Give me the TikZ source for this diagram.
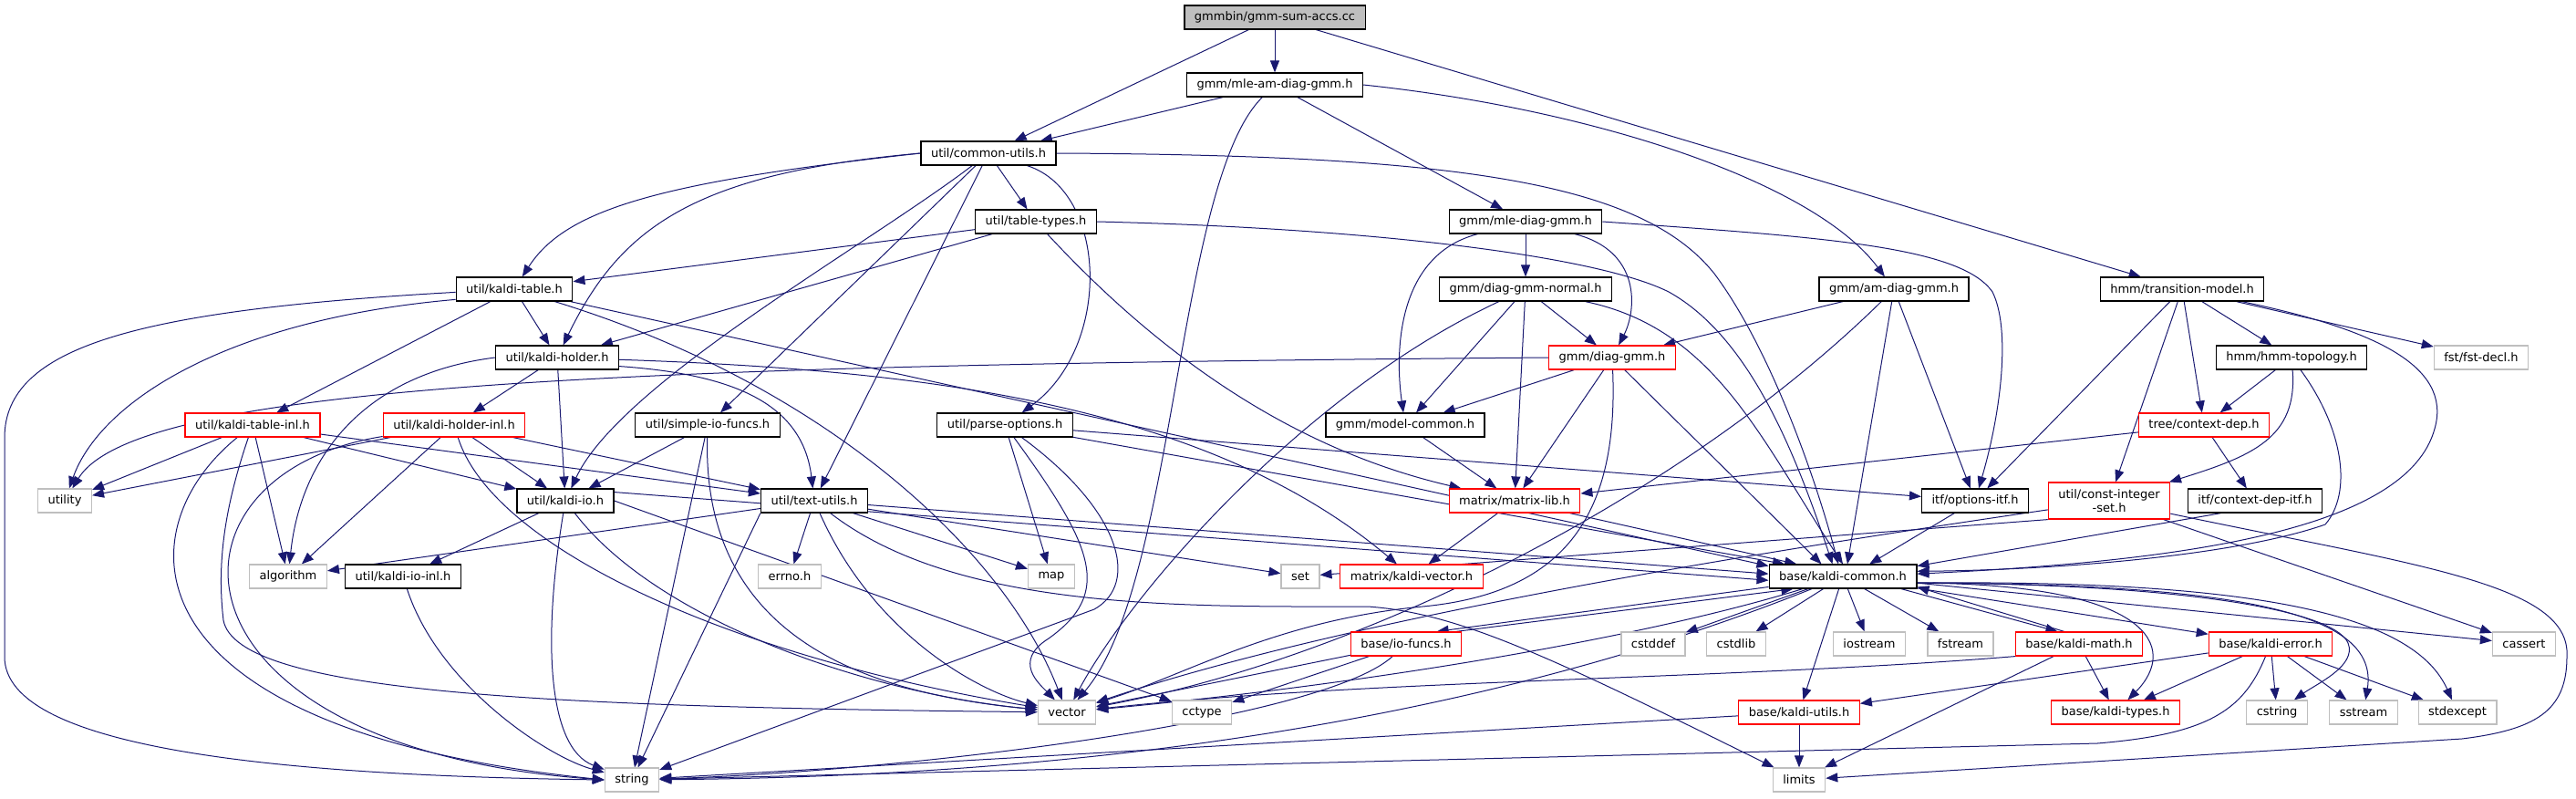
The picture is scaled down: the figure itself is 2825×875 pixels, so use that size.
\documentclass[tikz,border=0pt]{standalone}
\usepackage{fontspec}
\setmainfont{DejaVu Sans}
\usetikzlibrary{arrows.meta,backgrounds}

\definecolor{edgeblue}{RGB}{25,25,112}
\definecolor{sysgray}{RGB}{191,191,191}

\tikzset{
  file/.style={draw=black, fill=white, line width=0.6pt, minimum height=13pt,
    inner xsep=5.5pt, inner ysep=1pt, font=\fontsize{6.5}{7.5}\selectfont},
  redfile/.style={file, draw=red},
  sysfile/.style={file, draw=sysgray},
  rootfile/.style={file, fill=sysgray},
  dep/.style={draw=edgeblue, line width=0.5pt, -{Triangle[length=6.5pt,width=5pt]}}
}

\begin{document}
\begin{tikzpicture}[x=0.5pt, y=-0.5pt]
    \useasboundingbox (0,0) rectangle (2825,875);

    \node[rootfile] (root) at (1398,19) {gmmbin/gmm-sum-accs.cc};
    \node[file] (mleam) at (1398,93) {gmm/mle-am-diag-gmm.h};
    \node[file] (common) at (1084,168) {util/common-utils.h};
    \node[file] (tabletypes) at (1136,243) {util/table-types.h};
    \node[file] (mlediag) at (1673,243) {gmm/mle-diag-gmm.h};
    \node[file] (ktable) at (564,317) {util/kaldi-table.h};
    \node[file] (normal) at (1673,317) {gmm/diag-gmm-normal.h};
    \node[file] (amdiag) at (2077,317) {gmm/am-diag-gmm.h};
    \node[file] (trans) at (2393,317) {hmm/transition-model.h};
    \node[file] (kholder) at (611,392) {util/kaldi-holder.h};
    \node[redfile] (diaggmm) at (1768,392) {gmm/diag-gmm.h};
    \node[file] (hmmtopo) at (2513,392) {hmm/hmm-topology.h};
    \node[sysfile] (fstdecl) at (2721,392) {fst/fst-decl.h};
    \node[redfile] (ktableinl) at (277,466) {util/kaldi-table-inl.h};
    \node[redfile] (kholderinl) at (498,466) {util/kaldi-holder-inl.h};
    \node[file] (simpleio) at (776,466) {util/simple-io-funcs.h};
    \node[file] (parseopt) at (1102,466) {util/parse-options.h};
    \node[file] (modelcommon) at (1541,466) {gmm/model-common.h};
    \node[redfile] (contextdep) at (2417,466) {tree/context-dep.h};
    \node[sysfile] (utility) at (71,549) {utility};
    \node[file] (kio) at (620,549) {util/kaldi-io.h};
    \node[file] (textutils) at (893,549) {util/text-utils.h};
    \node[redfile] (matrixlib) at (1661,549) {matrix/matrix-lib.h};
    \node[file] (optionsitf) at (2166,549) {itf/options-itf.h};
    \node[redfile, align=center, minimum height=20pt] (constint) at (2313,549) {util/const-integer\\-set.h};
    \node[file] (contextdepitf) at (2473,549) {itf/context-dep-itf.h};
    \node[sysfile] (algorithm) at (316,632) {algorithm};
    \node[file] (kioinl) at (442,632) {util/kaldi-io-inl.h};
    \node[sysfile] (errno) at (866,632) {errno.h};
    \node[sysfile] (map) at (1153,632) {map};
    \node[sysfile] (set) at (1426,632) {set};
    \node[redfile] (kvector) at (1548,632) {matrix/kaldi-vector.h};
    \node[file] (kcommon) at (2021,632) {base/kaldi-common.h};
    \node[redfile] (iofuncs) at (1542,706) {base/io-funcs.h};
    \node[sysfile] (cstddef) at (1813,706) {cstddef};
    \node[sysfile] (cstdlib) at (1904,706) {cstdlib};
    \node[sysfile] (iostream) at (2050,706) {iostream};
    \node[sysfile] (fstream) at (2150,706) {fstream};
    \node[redfile] (kmath) at (2280,706) {base/kaldi-math.h};
    \node[redfile] (kerror) at (2490,706) {base/kaldi-error.h};
    \node[sysfile] (cassert) at (2768,706) {cassert};
    \node[sysfile] (vector) at (1170,781) {vector};
    \node[sysfile] (cctype) at (1318,781) {cctype};
    \node[redfile] (kutils) at (1973,781) {base/kaldi-utils.h};
    \node[redfile] (ktypes) at (2320,781) {base/kaldi-types.h};
    \node[sysfile] (cstring) at (2497,781) {cstring};
    \node[sysfile] (sstream) at (2592,781) {sstream};
    \node[sysfile] (stdexcept) at (2695,781) {stdexcept};
    \node[sysfile] (string) at (693,855) {string};
    \node[sysfile] (limits) at (1973,855) {limits};

    \begin{pgfonlayer}{background}
    % top levels
    \draw[dep] (root) -- (common);
    \draw[dep] (root) -- (mleam);
    \draw[dep] (root) -- (trans);
    \draw[dep] (mleam) -- (common);
    \draw[dep] (mleam) .. controls (1290,200) and (1290,640) .. (vector);
    \draw[dep] (mleam) -- (mlediag);
    \draw[dep] (mleam.east) .. controls (1750,120) and (1990,200) .. (amdiag);
    \draw[dep] (common.west) .. controls (720,200) and (620,230) .. (ktable);
    \draw[dep] (common.west) .. controls (760,190) and (680,250) .. (kholder);
    \draw[dep] (common) .. controls (950,270) and (680,420) .. (kio);
    \draw[dep] (common) -- (simpleio);
    \draw[dep] (common) -- (textutils);
    \draw[dep] (common) -- (tabletypes);
    \draw[dep] (common) .. controls (1215,210) and (1220,380) .. (parseopt);
    \draw[dep] (common.east) .. controls (1600,170) and (1800,200) .. (1880,300) .. controls (1940,380) and (1990,520) .. (kcommon.110);
    \draw[dep] (tabletypes) -- (ktable);
    \draw[dep] (tabletypes) -- (kholder);
    \draw[dep] (tabletypes) .. controls (1300,420) and (1450,500) .. (matrixlib);
    \draw[dep] (tabletypes.east) .. controls (1500,250) and (1750,280) .. (1830,320) .. controls (1920,370) and (1970,500) .. (kcommon.130);
    \draw[dep] (mlediag) -- (normal);
    \draw[dep] (mlediag) .. controls (1800,275) and (1795,340) .. (diaggmm);
    \draw[dep] (mlediag) .. controls (1530,280) and (1530,390) .. (modelcommon);
    \draw[dep] (mlediag.east) .. controls (2000,260) and (2150,270) .. (2185,320) .. controls (2205,360) and (2195,450) .. (optionsitf);

    % util
    \draw[dep] (ktable) -- (kholder);
    \draw[dep] (ktable) -- (ktableinl);
    \draw[dep] (ktable.190) .. controls (250,350) and (110,440) .. (utility);
    \draw[dep] (ktable.183) .. controls (150,340) and (5,380) .. (5,480) -- (5,720) .. controls (5,820) and (300,850) .. (string.west);
    \draw[dep] (ktable) .. controls (900,420) and (1100,600) .. (vector);
    \draw[dep] (ktable) -- (kcommon.172);
    \draw[dep] (normal) .. controls (1430,430) and (1240,650) .. (vector);
    \draw[dep] (normal) -- (modelcommon);
    \draw[dep] (normal) -- (matrixlib);
    \draw[dep] (normal) -- (diaggmm);
    \draw[dep] (normal) .. controls (1880,360) and (1930,480) .. (kcommon.90);
    \draw[dep] (amdiag) -- (diaggmm);
    \draw[dep] (amdiag) .. controls (1850,540) and (1500,720) .. (vector);
    \draw[dep] (amdiag) -- (kcommon.70);
    \draw[dep] (amdiag) -- (optionsitf);
    \draw[dep] (trans) -- (optionsitf);
    \draw[dep] (trans) -- (constint);
    \draw[dep] (trans) -- (contextdep);
    \draw[dep] (trans) -- (hmmtopo);
    \draw[dep] (trans) -- (fstdecl);
    \draw[dep] (trans) .. controls (2600,360) and (2690,400) .. (2670,470) .. controls (2640,580) and (2400,615) .. (kcommon.2);
    \draw[dep] (kholder.west) .. controls (400,410) and (330,500) .. (algorithm);
    \draw[dep] (kholder) -- (kholderinl);
    \draw[dep] (kholder) -- (kio);
    \draw[dep] (kholder.-8) .. controls (800,410) and (880,440) .. (textutils);
    \draw[dep] (kholder) .. controls (1000,405) and (1320,440) .. (kvector);
    \draw[dep] (diaggmm.west) .. controls (700,400) and (150,420) .. (utility);
    \draw[dep] (diaggmm) -- (modelcommon);
    \draw[dep] (diaggmm) -- (matrixlib);
    \draw[dep] (diaggmm) .. controls (1775,560) and (1720,650) .. (1560,665) .. controls (1400,680) and (1300,740) .. (vector);
    \draw[dep] (diaggmm) -- (kcommon.150);
    \draw[dep] (hmmtopo) -- (contextdep);
    \draw[dep] (hmmtopo) .. controls (2520,480) and (2470,500) .. (constint);
    \draw[dep] (hmmtopo) .. controls (2570,470) and (2580,540) .. (2550,575) .. controls (2450,610) and (2250,625) .. (kcommon.4);
    \draw[dep] (ktableinl) -- (utility);
    \draw[dep] (ktableinl) .. controls (136,580) and (130,800) .. (string.west);
    \draw[dep] (ktableinl) .. controls (245,560) and (238,620) .. (245,680) .. controls (260,760) and (600,775) .. (vector);
    \draw[dep] (ktableinl) -- (algorithm);
    \draw[dep] (ktableinl) -- (kio);
    \draw[dep] (ktableinl) -- (textutils);
    \draw[dep] (kholderinl) -- (utility);
    \draw[dep] (kholderinl) .. controls (160,520) and (170,820) .. (string.west);
    \draw[dep] (kholderinl) -- (algorithm);
    \draw[dep] (kholderinl) -- (kio);
    \draw[dep] (kholderinl) .. controls (540,600) and (800,720) .. (vector);
    \draw[dep] (kholderinl) -- (textutils);
    \draw[dep] (simpleio) -- (kio);
    \draw[dep] (simpleio) -- (string);
    \draw[dep] (simpleio) .. controls (770,700) and (950,760) .. (vector);
    \draw[dep] (parseopt) -- (map);
    \draw[dep] (parseopt) .. controls (1200,600) and (1220,650) .. (1150,700) .. controls (1110,725) and (1140,750) .. (vector);
    \draw[dep] (parseopt) .. controls (1230,560) and (1250,640) .. (1200,668) -- (string);
    \draw[dep] (parseopt) -- (kcommon.168);
    \draw[dep] (parseopt) -- (optionsitf);
    \draw[dep] (modelcommon) -- (matrixlib);
    \draw[dep] (contextdep) -- (matrixlib);
    \draw[dep] (contextdep) -- (contextdepitf);
    \draw[dep] (kio) -- (kioinl);
    \draw[dep] (kio) .. controls (595,700) and (600,820) .. (string);
    \draw[dep] (kio.east) -- (cctype);
    \draw[dep] (kio.10) -- (kcommon.183);
    \draw[dep] (kio) .. controls (720,680) and (950,760) .. (vector);
    \draw[dep] (textutils) -- (algorithm);
    \draw[dep] (textutils.south west) -- (string);
    \draw[dep] (textutils) -- (errno);
    \draw[dep] (textutils) .. controls (960,700) and (1080,760) .. (vector);
    \draw[dep] (textutils) .. controls (1050,670) and (1300,665) .. (1500,665) .. controls (1600,672) and (1700,720) .. (limits);
    \draw[dep] (textutils) -- (map);
    \draw[dep] (textutils) -- (kcommon.178);
    \draw[dep] (textutils) -- (set);
    \draw[dep] (matrixlib) -- (kvector);
    \draw[dep] (matrixlib) -- (kcommon.165);
    \draw[dep] (optionsitf) -- (kcommon.25);
    \draw[dep] (constint.south west) -- (set);
    \draw[dep] (constint) .. controls (2000,595) and (1500,670) .. (vector);
    \draw[dep] (constint) -- (cassert);
    \draw[dep] (constint) .. controls (2650,620) and (2820,640) .. (2815,720) .. controls (2815,780) and (2780,800) .. (2700,810) -- (limits);
    \draw[dep] (contextdepitf.200) -- (kcommon.8);
    \draw[dep] (kioinl) .. controls (480,750) and (600,830) .. (string);

    % base
    \draw[dep] (kcommon) -- (cstddef);
    \draw[dep] (kcommon) -- (cstdlib);
    \draw[dep] (kcommon) -- (iostream);
    \draw[dep] (kcommon) -- (fstream);
    \draw[dep] (kcommon) -- (kutils);
    \draw[dep] (kcommon.-12) -- (kmath.150);
    \draw[dep] (kmath.140) -- (kcommon.-8);
    \draw[dep] (kcommon) -- (kerror);
    \draw[dep] (kcommon.-5) .. controls (2360,640) and (2390,710) .. (ktypes);
    \draw[dep] (kcommon.-5) .. controls (2400,640) and (2560,670) .. (2575,705) .. controls (2585,730) and (2540,750) .. (cstring);
    \draw[dep] (kcommon.-5) .. controls (2450,640) and (2610,670) .. (sstream);
    \draw[dep] (kcommon.-5) .. controls (2500,635) and (2650,680) .. (stdexcept);
    \draw[dep] (kcommon.-5) -- (cassert);
    \draw[dep] (kcommon) .. controls (1800,700) and (1500,750) .. (vector);
    \draw[dep] (kcommon) .. controls (1700,760) and (1300,850) .. (string);
    \draw[dep] (kcommon.188) -- (iofuncs.22);
    \draw[dep] (iofuncs.14) -- (kcommon.194);
    \draw[dep] (iofuncs) -- (vector);
    \draw[dep] (iofuncs) -- (cctype);
    \draw[dep] (iofuncs) .. controls (1450,790) and (1000,845) .. (string);
    \draw[dep] (kmath.south west) .. controls (1900,745) and (1500,745) .. (vector);
    \draw[dep] (kmath) -- (limits);
    \draw[dep] (kmath) -- (ktypes);
    \draw[dep] (kerror) -- (kutils);
    \draw[dep] (kerror) -- (ktypes);
    \draw[dep] (kerror) .. controls (2460,780) and (2420,805) .. (2300,815) -- (string);
    \draw[dep] (kerror) -- (cstring);
    \draw[dep] (kerror) -- (sstream);
    \draw[dep] (kerror) -- (stdexcept);
    \draw[dep] (kutils) -- (limits);
    \draw[dep] (kutils) -- (string);
    \end{pgfonlayer}
\end{tikzpicture}
\end{document}
